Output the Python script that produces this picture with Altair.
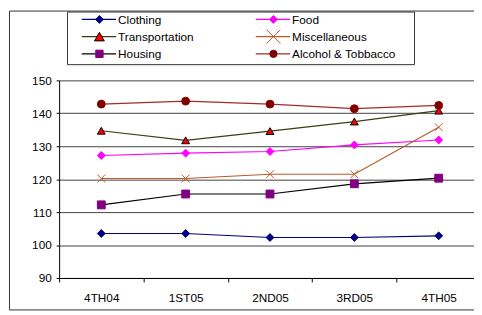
import altair as alt
import pandas as pd

quarters = ["4TH04", "1ST05", "2ND05", "3RD05", "4TH05"]
series = ["Clothing", "Food", "Transportation", "Miscellaneous", "Housing", "Alcohol & Tobbacco"]
clothing = [103.5, 103.5, 102.3, 102.3, 102.8]
food = [127.2, 127.9, 128.4, 130.4, 131.9]
transportation = [134.7, 131.8, 134.6, 137.5, 140.8]
miscellaneous = [120.2, 120.2, 121.5, 121.5, 135.8]
housing = [112.2, 115.5, 115.5, 118.6, 120.3]
alcohol = [142.8, 143.7, 142.8, 141.4, 142.4]
y_ticks = [90, 100, 110, 120, 130, 140, 150]

values = [clothing, food, transportation, miscellaneous, housing, alcohol]
rows = []
for s, vals in zip(series, values):
    for q, v in zip(quarters, vals):
        rows.append({"Series": s, "Quarter": q, "Value": v})
df = pd.DataFrame(rows)

FONT = "Liberation Sans"
X_SHAPE = "M-1,-1L1,1M-1,1L1,-1"
line_colors = ["#000080", "#FF00FF", "#3D3D14", "#B85A2A", "#000000", "#A52A2A"]
shapes = ["diamond", "diamond", "triangle-up", X_SHAPE, "square", "circle"]
fills = ["#000080", "#FF00FF", "#FF0000", "transparent", "#800080", "#800000"]
strokes = ["#000080", "#FF00FF", "#000000", "#B85A2A", "#800080", "#800000"]
sizes = [64, 64, 100, 200, 56, 55]

xenc = alt.X("Quarter:N", sort=quarters,
             scale=alt.Scale(type="band", domain=quarters, range=[0, 429],
                             paddingInner=0, paddingOuter=0),
             axis=alt.Axis(title=None, tickBand="extent", labelAngle=0,
                           labelFont=FONT, labelFontSize=12, labelColor="black",
                           domainColor="black", tickColor="black", tickSize=4,
                           labelPadding=11, grid=False, labelOverlap=False))
yenc = alt.Y("Value:Q",
             scale=alt.Scale(domain=[90, 150], nice=False, zero=False),
             axis=alt.Axis(title=None, values=y_ticks, labelFont=FONT, labelFontSize=12,
                           labelColor="black", domainColor="black", tickColor="black",
                           tickSize=3, labelPadding=5, grid=True, gridColor="#404040",
                           gridWidth=1, gridOpacity=1, labelOverlap=False,
                           labelFlush=False))

base = alt.Chart(df)
lines = base.mark_line(strokeWidth=1.2).encode(
    x=xenc, y=yenc,
    color=alt.Color("Series:N", scale=alt.Scale(domain=series, range=line_colors), legend=None),
    detail="Series:N",
)
points = base.mark_point(filled=False, opacity=1, strokeWidth=1).encode(
    x=xenc, y=yenc,
    shape=alt.Shape("Series:N", scale=alt.Scale(domain=series, range=shapes), legend=None),
    fill=alt.Fill("Series:N", scale=alt.Scale(domain=series, range=fills), legend=None),
    stroke=alt.Stroke("Series:N", scale=alt.Scale(domain=series, range=strokes), legend=None),
    size=alt.Size("Series:N", scale=alt.Scale(domain=series, range=sizes), legend=None),
)

one = pd.DataFrame({"a": [0]})
border = alt.Chart(one).mark_rect(fill="transparent", stroke="#333333", strokeWidth=1).encode(
    x=alt.value(-50.5), x2=alt.value(440), y=alt.value(-70.5), y2=alt.value(233.5))
legend_box = alt.Chart(one).mark_rect(fill="white", stroke="#333333", strokeWidth=1).encode(
    x=alt.value(8.5), x2=alt.value(361.5), y=alt.value(-69.5), y2=alt.value(-16))

legend_layers = []
row_y = [-62, -44.5, -27]
col_x = [23, 200]
for i, s in enumerate(series):
    col = i % 2
    row = i // 2
    x0 = col_x[col]
    y0 = row_y[row]
    d = pd.DataFrame({"Series": [s]})
    legend_layers.append(alt.Chart(d).mark_rule(color=line_colors[i], strokeWidth=1.2).encode(
        x=alt.value(x0), x2=alt.value(x0 + 35), y=alt.value(y0)))
    legend_layers.append(alt.Chart(d).mark_point(
        shape=shapes[i], fill=fills[i], stroke=strokes[i], size=sizes[i],
        filled=False, opacity=1, strokeWidth=1).encode(
        x=alt.value(x0 + 18), y=alt.value(y0)))
    legend_layers.append(alt.Chart(d).mark_text(
        align="left", baseline="middle", font=FONT, fontSize=12, color="black").encode(
        x=alt.value(x0 + 37), y=alt.value(y0 + 0.5), text="Series:N"))

chart = alt.layer(border, legend_box, lines, points, *legend_layers).properties(
    width=422, height=201,
    autosize=alt.AutoSizeParams(type="none"),
    padding={"left": 52, "top": 71, "right": 0, "bottom": 33},
    background="white",
).configure_view(stroke=None)

chart.save("out.html", embed_options={"renderer": "svg", "actions": False})
